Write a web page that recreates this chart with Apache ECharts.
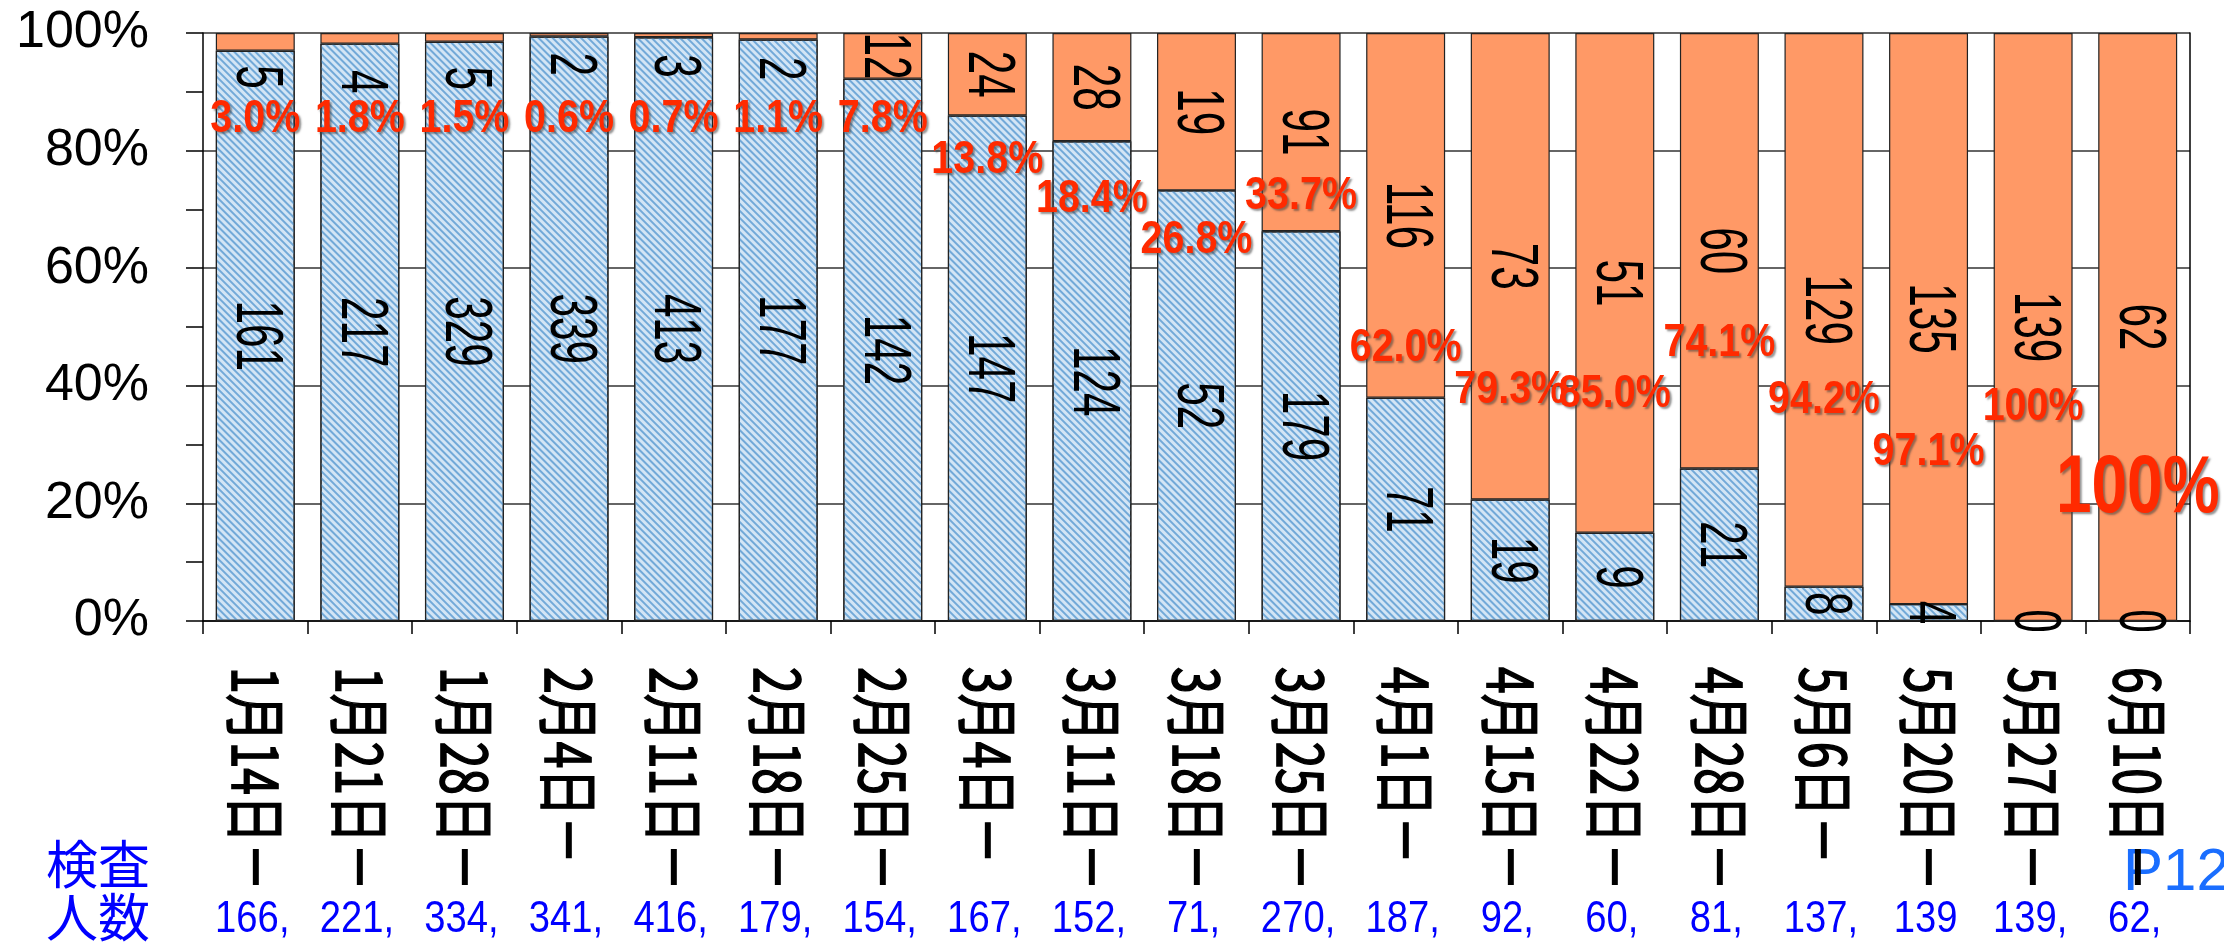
<!DOCTYPE html>
<html>
<head>
<meta charset="utf-8">
<script src="https://cdn.jsdelivr.net/npm/echarts@6/dist/echarts.min.js"></script>
<style>
html,body{margin:0;padding:0;background:#fff;}
#chart{width:2224px;height:944px;}
</style>
</head>
<body>
<div id="chart"></div>
<script>
////---------------------------- data ----------------------------////
const categories = ['1月14日－','1月21日－','1月28日－','2月4日－','2月11日－','2月18日－','2月25日－',
                    '3月4日－','3月11日－','3月18日－','3月25日－','4月1日－','4月15日－','4月22日－',
                    '4月28日－','5月6日－','5月20日－','5月27日－','6月10日－'];
const negative   = [161,217,329,339,413,177,142,147,124,52,179,71,19,9,21,8,4,0,0];
const positive   = [5,4,5,2,3,2,12,24,28,19,91,116,73,51,60,129,135,139,62];
const pctLabels  = ['3.0%','1.8%','1.5%','0.6%','0.7%','1.1%','7.8%','13.8%','18.4%','26.8%','33.7%',
                    '62.0%','79.3%','85.0%','74.1%','94.2%','97.1%','100%','100%'];
const countLabels = ['166,','221,','334,','341,','416,','179,','154,','167,','152,','71,','270,',
                     '187,','92,','60,','81,','137,','139','139,','62,'];
const yTicks = [0,20,40,60,80,100];

////--------------------------- layout ---------------------------////
// where the red rate labels sit (in % of the axis)
const pctLabelAt = [85.4,85.4,85.4,85.4,85.4,85.4,85.4,78.4,71.8,64.8,72.3,46.5,39.3,38.6,47.3,37.6,28.7,36.4,22.3];
// small orange segments: label pushed below the top
const orangeLabelFix = [92.5,91.7,92.3,94.7,94.4,93.9];

////--------------------------------------------------------------////
const negPct = negative.map((v,i) => v/(v+positive[i])*100);
const posPct = positive.map((v,i) => v/(v+negative[i])*100);

const arial = "'Liberation Sans',Arial,sans-serif";
const gothic = "'Noto Sans CJK JP',sans-serif";

// text drawn at data coordinates through a custom series
function textSeries(points, texts, opt){
    return {
        type: 'custom',
        data: points,
        clip: false,
        silent: true,
        z: opt.z || 5,
        renderItem: (params, api) => {
            const i = params.dataIndex;
            const pt = api.coord([api.value(0), api.value(1)]);
            const st = opt.style(i);
            return {
                type: 'text',
                x: pt[0] + (opt.dx || 0),
                y: pt[1] + (opt.dy || 0),
                rotation: opt.rotation || 0,
                scaleX: st.scaleX || 1,
                scaleY: st.scaleY || 1,
                style: Object.assign({
                    text: texts[i],
                    align: opt.align || 'center',
                    verticalAlign: 'middle'
                }, st.text)
            };
        }
    };
}

const negLabelData = negPct.map((p,i) => [i, p/2]);
const posLabelData = posPct.map((p,i) => [i, orangeLabelFix[i] !== undefined ? orangeLabelFix[i] : negPct[i] + p/2]);
const pctData      = pctLabelAt.map((y,i) => [i, y]);
const baseData     = categories.map((c,i) => [i, 0]);

const countInBar = i => ({scaleX: 0.64, text: {font: '66px ' + arial, fill: '#000'}});
const redShadow = {
    fill: '#ff2a00',
    shadowColor: 'rgba(60,60,60,0.55)', shadowBlur: 2, shadowOffsetX: 2, shadowOffsetY: 2,
    textShadowColor: 'rgba(60,60,60,0.55)', textShadowBlur: 2, textShadowOffsetX: 2, textShadowOffsetY: 2
};

const chart = echarts.init(document.getElementById('chart'), null, {renderer: 'canvas'});

chart.setOption({
    animation: false,
    backgroundColor: '#fff',
    grid: {left: 203, right: 34, top: 33, bottom: 323, containLabel: false, outerBoundsMode: 'none'},
    xAxis: {
        type: 'category',
        data: categories,
        axisLine: {lineStyle: {color: '#000', width: 1.5}},
        axisTick: {show: true, length: 13, lineStyle: {color: '#000', width: 1.5}},
        axisLabel: {show: false}
    },
    yAxis: [
        {
            type: 'value',
            min: 0, max: 100, interval: 20,
            axisLine: {show: true, lineStyle: {color: '#000', width: 1.5}},
            axisTick: {show: true, length: 17, lineStyle: {color: '#000', width: 1.5}},
            minorTick: {show: true, splitNumber: 2, length: 17, lineStyle: {color: '#000', width: 1.5}},
            splitLine: {show: true, lineStyle: {color: '#333', width: 1.5}},
            axisLabel: {
                margin: 54,
                color: '#000',
                fontSize: 52,
                fontFamily: arial,
                formatter: v => yTicks.includes(v) ? v + '%' : ''
            }
        },
        {
            type: 'value',
            min: 0, max: 100, interval: 20,
            position: 'right',
            axisLine: {show: true, lineStyle: {color: '#000', width: 1.5}},
            axisTick: {show: false},
            axisLabel: {show: false},
            splitLine: {show: false}
        }
    ],
    series: [
        {
            name: '陰性',
            type: 'bar',
            stack: 'all',
            barWidth: '75.5%',
            data: negPct,
            itemStyle: {
                color: '#d3e5f5',
                borderColor: '#222',
                borderWidth: 1.2,
                decal: {
                    symbol: 'rect',
                    dashArrayX: [1, 0],
                    dashArrayY: [2, 3],
                    rotation: Math.PI / 4,
                    color: '#72a9d8'
                }
            }
        },
        {
            name: '陽性',
            type: 'bar',
            stack: 'all',
            data: posPct,
            itemStyle: {color: '#ff9966', borderColor: '#222', borderWidth: 1.2}
        },
        // counts inside the bars
        textSeries(negLabelData, negative.map(String), {rotation: -Math.PI/2, style: countInBar}),
        textSeries(posLabelData, positive.map(String), {rotation: -Math.PI/2, style: countInBar}),
        // red rate labels
        textSeries(pctData, pctLabels, {z: 6, style: i => i === pctLabels.length-1
            ? {scaleX: 0.78, text: Object.assign({font: 'bold 82px ' + arial}, redShadow)}
            : {scaleX: 0.84, text: Object.assign({font: 'bold 47px ' + arial}, redShadow)}}),
        // category labels under the axis
        textSeries(baseData, categories, {rotation: -Math.PI/2, align: 'left', dy: 46,
            style: i => ({scaleY: 1.3, text: {font: '48px ' + gothic, fill: '#000', stroke: '#000', lineWidth: 1.3}})}),
        // number of people tested
        textSeries(baseData, countLabels, {dy: 299, dx: -3,
            style: i => ({scaleX: 0.85, text: {font: '45px ' + arial, fill: '#0000ff'}})})
    ],
    graphic: [
        {
            type: 'text',
            left: 46,
            top: 838,
            style: {
                text: '検査\n人数',
                font: "52px 'Noto Sans CJK JP', sans-serif",
                lineHeight: 53,
                fill: '#0000ff'
            }
        },
        {
            type: 'text',
            left: 2123,
            top: 843,
            style: {
                text: 'P12',
                font: "60px 'Liberation Sans', Arial, sans-serif",
                fill: '#1a6eff'
            }
        }
    ]
});
window.addEventListener('resize', chart.resize);
</script>
</body>
</html>
